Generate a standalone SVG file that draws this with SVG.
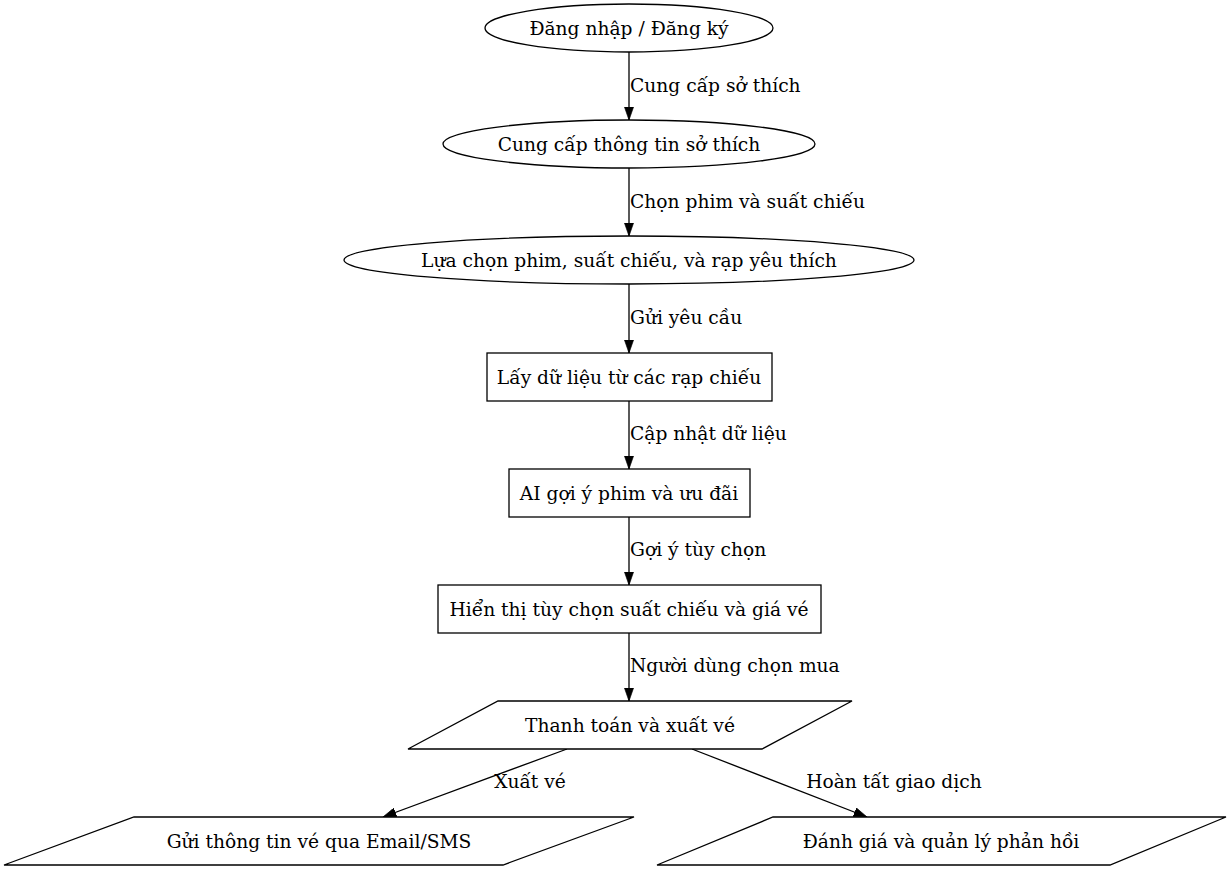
<svg xmlns="http://www.w3.org/2000/svg" width="1232" height="871" viewBox="0 0 1232 871">
<style>
.n{fill:#fff;stroke:#000;stroke-width:1.3}
.t{font-family:"DejaVu Serif",serif;font-size:18.67px;fill:#000;text-anchor:middle}
.l{font-family:"DejaVu Serif",serif;font-size:18.67px;fill:#000}
.e{fill:none;stroke:#000;stroke-width:1.3;marker-end:url(#a)}
</style>
<defs>
<marker id="a" viewBox="0 0 10 7" refX="10" refY="3.5" markerWidth="13.3" markerHeight="9.3" markerUnits="userSpaceOnUse" orient="auto">
<path d="M0,0L10,3.5L0,7Z" fill="#000" stroke="#000" stroke-width="0.5"/>
</marker>
</defs>
<rect width="1232" height="871" fill="#fff"/>
<g id="edges">
<path class="e" d="M629,52V120"/>
<path class="e" d="M629,168V236"/>
<path class="e" d="M629,284V353"/>
<path class="e" d="M629,401V469"/>
<path class="e" d="M629,517V585"/>
<path class="e" d="M629,633V701"/>
<path class="e" d="M567,749L383,817"/>
<path class="e" d="M692,749L867,817"/>
<text class="l" x="630" y="92">Cung cấp sở thích</text>
<text class="l" x="630" y="208">Chọn phim và suất chiếu</text>
<text class="l" x="630" y="324">Gửi yêu cầu</text>
<text class="l" x="630" y="440">Cập nhật dữ liệu</text>
<text class="l" x="630" y="556">Gợi ý tùy chọn</text>
<text class="l" x="630" y="672">Người dùng chọn mua</text>
<text class="t" x="530" y="788">Xuất vé</text>
<text class="t" x="894" y="788">Hoàn tất giao dịch</text>
</g>
<g id="n1"><ellipse class="n" cx="629" cy="28" rx="144" ry="24"/><text class="t" x="629" y="35">Đăng nhập / Đăng ký</text></g>
<g id="n2"><ellipse class="n" cx="629" cy="144" rx="186" ry="24"/><text class="t" x="629" y="151">Cung cấp thông tin sở thích</text></g>
<g id="n3"><ellipse class="n" cx="629" cy="260" rx="285" ry="24"/><text class="t" x="629" y="267">Lựa chọn phim, suất chiếu, và rạp yêu thích</text></g>
<g id="n4"><rect class="n" x="487" y="353" width="285" height="48"/><text class="t" x="629" y="384">Lấy dữ liệu từ các rạp chiếu</text></g>
<g id="n5"><rect class="n" x="509" y="469" width="241" height="48"/><text class="t" x="629" y="500">AI gợi ý phim và ưu đãi</text></g>
<g id="n6"><rect class="n" x="438" y="585" width="383" height="48"/><text class="t" x="629" y="616">Hiển thị tùy chọn suất chiếu và giá vé</text></g>
<g id="n7"><polygon class="n" points="498,701 852,701 762,749 408,749"/><text class="t" x="630" y="732">Thanh toán và xuất vé</text></g>
<g id="n8"><polygon class="n" points="134,817 634,817 503,865 4,865"/><text class="t" x="319" y="848">Gửi thông tin vé qua Email/SMS</text></g>
<g id="n9"><polygon class="n" points="773,817 1226,817 1110,865 657,865"/><text class="t" x="941" y="848">Đánh giá và quản lý phản hồi</text></g>
</svg>
